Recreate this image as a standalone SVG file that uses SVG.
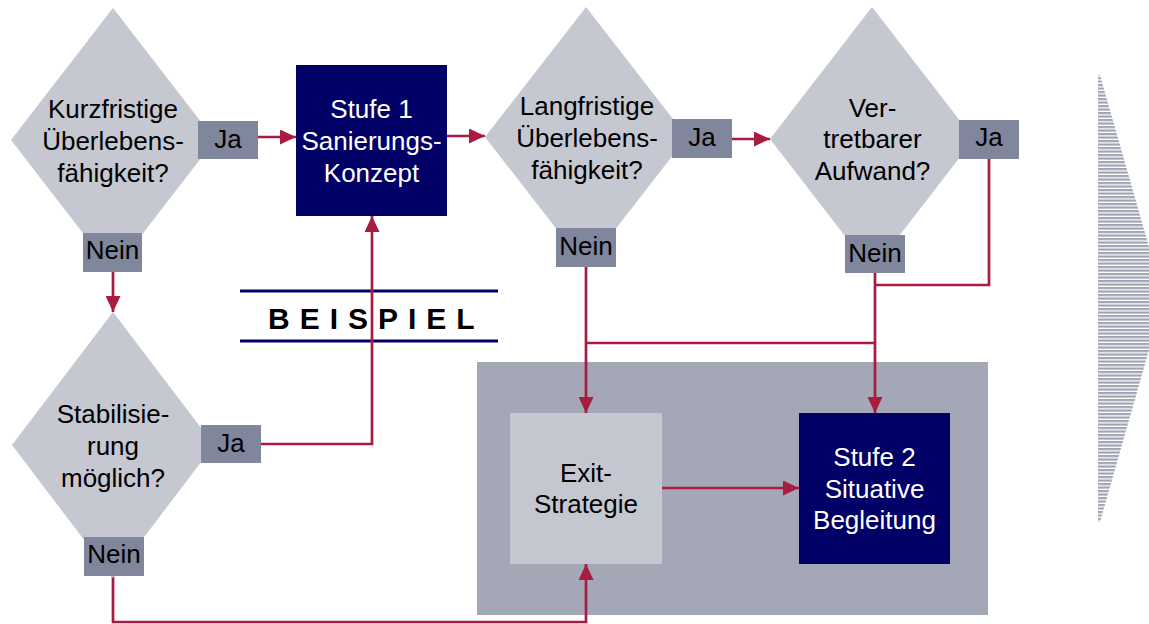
<svg xmlns="http://www.w3.org/2000/svg" width="1149" height="624" viewBox="0 0 1149 624">
<style>
.dia{fill:#c5c7d1}
.lbl{fill:#80869b}
.navy{fill:#000066}
.t{font-family:"Liberation Sans",Arial,sans-serif;font-size:26px;text-anchor:middle;fill:#000}
.tw{font-family:"Liberation Sans",Arial,sans-serif;font-size:26px;text-anchor:middle;fill:#fff}
.con{fill:none;stroke:#a81c40;stroke-width:2.7}
</style>
<defs>
<marker id="ah" markerUnits="userSpaceOnUse" markerWidth="16" markerHeight="15" refX="16" refY="7.5" orient="auto">
<path d="M0,0 L16,7.5 L0,15 z" fill="#a81c40"/>
</marker>
<pattern id="stripes" patternUnits="userSpaceOnUse" width="20" height="3.5">
<rect x="0" y="0" width="20" height="2.2" fill="#9fa3b4"/>
</pattern>
</defs>
<rect width="1149" height="624" fill="#fff"/>

<g id="container">
<rect x="477" y="362" width="511" height="253" fill="#a4a7b5"/>
</g>

<g id="beispiel">
<line x1="240" y1="291" x2="498" y2="291" stroke="#000066" stroke-width="3"/>
<line x1="240" y1="341" x2="498" y2="341" stroke="#000066" stroke-width="3"/>
<text x="268" y="329" font-family="'Liberation Sans',Arial,sans-serif" font-size="30" font-weight="bold" letter-spacing="10" fill="#000">BEISPIEL</text>
</g>

<g id="connectors">
<path class="con" d="M258,137 H296" marker-end="url(#ah)"/>
<path class="con" d="M113,272 V312" marker-end="url(#ah)"/>
<path class="con" d="M261,444 H372 V216" marker-end="url(#ah)"/>
<path class="con" d="M447,136 H485" marker-end="url(#ah)"/>
<path class="con" d="M732,139 H770" marker-end="url(#ah)"/>
<path class="con" d="M586,267 V413" marker-end="url(#ah)"/>
<path class="con" d="M586,343 H875"/>
<path class="con" d="M875,273 V413" marker-end="url(#ah)"/>
<path class="con" d="M989,159 V285 H875"/>
<path class="con" d="M113,576 V622 H586 V564" marker-end="url(#ah)"/>
<path class="con" d="M662,488 H799" marker-end="url(#ah)"/>
</g>

<g id="d1">
<polygon class="dia" points="113,8 215,140 113,272 11,140"/>
<text class="t" x="113" y="118">Kurzfristige</text>
<text class="t" x="113" y="150">Überlebens-</text>
<text class="t" x="113" y="182">fähigkeit?</text>
<rect class="lbl" x="198" y="121" width="60" height="38"/>
<text class="t" x="228" y="148">Ja</text>
<rect class="lbl" x="83" y="233" width="59" height="39"/>
<text class="t" x="112.5" y="259">Nein</text>
</g>

<g id="stufe1">
<rect class="navy" x="296" y="65" width="151" height="151"/>
<text class="tw" x="371.5" y="118">Stufe 1</text>
<text class="tw" x="371.5" y="150">Sanierungs-</text>
<text class="tw" x="371.5" y="182">Konzept</text>
</g>

<g id="d2">
<polygon class="dia" points="586,7 687,137 586,267 485,137"/>
<text class="t" x="587" y="115">Langfristige</text>
<text class="t" x="587" y="147">Überlebens-</text>
<text class="t" x="587" y="179">fähigkeit?</text>
<rect class="lbl" x="672" y="119" width="60" height="39"/>
<text class="t" x="702" y="146">Ja</text>
<rect class="lbl" x="556" y="228" width="60" height="39"/>
<text class="t" x="586" y="255">Nein</text>
</g>

<g id="d3">
<polygon class="dia" points="872,7 974,139 872,271 770,139"/>
<text class="t" x="872.5" y="117">Ver-</text>
<text class="t" x="872.5" y="148">tretbarer</text>
<text class="t" x="872.5" y="180">Aufwand?</text>
<rect class="lbl" x="959" y="120" width="60" height="39"/>
<text class="t" x="989" y="146">Ja</text>
<rect class="lbl" x="845" y="235" width="60" height="38"/>
<text class="t" x="875" y="262">Nein</text>
</g>

<g id="d4">
<polygon class="dia" points="113,312 214,445 113,578 12,445"/>
<text class="t" x="113" y="423">Stabilisie-</text>
<text class="t" x="113" y="455">rung</text>
<text class="t" x="113" y="487">möglich?</text>
<rect class="lbl" x="201" y="425" width="60" height="38"/>
<text class="t" x="231" y="452">Ja</text>
<rect class="lbl" x="84" y="537" width="60" height="39"/>
<text class="t" x="114" y="563">Nein</text>
</g>

<g id="exit">
<rect x="510" y="413" width="152" height="151" fill="#c5c7d0"/>
<text class="t" x="586" y="482">Exit-</text>
<text class="t" x="586" y="513">Strategie</text>
</g>

<g id="stufe2">
<rect class="navy" x="799" y="413" width="151" height="151"/>
<text class="tw" x="874.5" y="466">Stufe 2</text>
<text class="tw" x="874.5" y="498">Situative</text>
<text class="tw" x="874.5" y="529">Begleitung</text>
</g>

<g id="phase-arrow">
<polygon points="1098,75 1100,75 1149,247 1149,350 1100,522 1098,522" fill="url(#stripes)"/>
</g>
</svg>
